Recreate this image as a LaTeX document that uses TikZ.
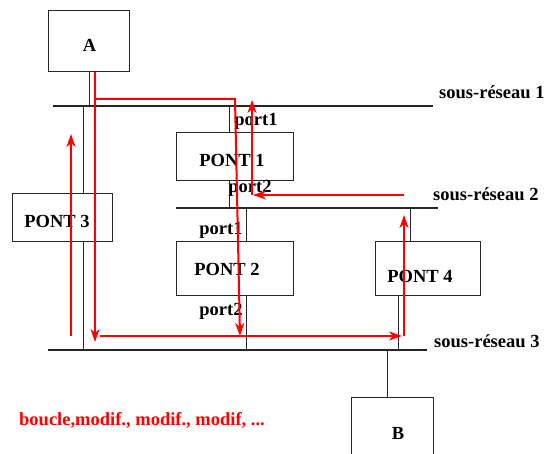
\documentclass[tikz,border=0pt]{standalone}
\usepackage{fontspec}
\setmainfont{Liberation Serif}
\usetikzlibrary{arrows.meta}
\begin{document}
\begin{tikzpicture}[x=1pt,y=-1pt,
  box/.style={draw=black!85, line width=1pt, inner sep=0pt, outer sep=0pt},
  lbl/.style={font=\fontsize{18.5}{22}\selectfont\bfseries, inner sep=0pt, text=black},
  bus/.style={draw=black!85, line width=1.2pt},
  stem/.style={draw=black!85, line width=0.9pt},
  redp/.style={draw=red, line width=2pt},
  redarr/.style={redp, -{Stealth[length=13pt,width=9pt,inset=4pt]}}]
\clip (0,0) rectangle (544,454);
% boxes
\node[box, minimum width=81pt, minimum height=61pt] (boxA) at (88.5,41.5) {};
\node[box, minimum width=117pt, minimum height=48pt] (p1) at (234.5,157) {};
\node[box, minimum width=100pt, minimum height=48pt] (p3) at (62,218) {};
\node[box, minimum width=117pt, minimum height=54pt] (p2) at (234.5,269) {};
\node[box, minimum width=105pt, minimum height=54pt] (p4) at (427.5,269) {};
\node[box, minimum width=82pt, minimum height=61pt] (boxB) at (392,428) {};
% labels
\node[lbl, anchor=base] (tA) at (89.5,52) {A};
\node[lbl, anchor=base] (t1) at (232,167) {PONT 1};
\node[lbl, anchor=base] (t3) at (57,228) {PONT 3};
\node[lbl, anchor=base] (t2) at (227,276) {PONT 2};
\node[lbl, anchor=base] (t4) at (420,283) {PONT 4};
\node[lbl, anchor=base] (tB) at (398,439) {B};
\node[lbl, anchor=base] (p1a) at (256,126) {port1};
\node[lbl, anchor=base] (p1b) at (250,193) {port2};
\node[lbl, anchor=base] (p2a) at (221,235) {port1};
\node[lbl, anchor=base] (p2b) at (221,316) {port2};
\node[lbl, anchor=base west] (s1) at (439,99) {sous-réseau 1};
\node[lbl, anchor=base west] (s2) at (433,201) {sous-réseau 2};
\node[lbl, anchor=base west] (s3) at (434,348) {sous-réseau 3};
\node[lbl, anchor=base west, text=red] (note) at (19,426) {boucle,modif., modif., modif, ...};
% buses
\coordinate (r1w) at (53,106); \coordinate (r1e) at (433,106);
\coordinate (r2w) at (176,208); \coordinate (r2e) at (438,208);
\coordinate (r3w) at (48,350); \coordinate (r3e) at (427,350);
\draw[bus] (r1w) -- (r1e);
\draw[bus] (r2w) -- (r2e);
\draw[bus] (r3w) -- (r3e);
% stems
\draw[stem] (89,0 |- boxA.south) -- (89,0 |- r1w);
\draw[stem] (83,0 |- r1w) -- (83,0 |- p3.north);
\draw[stem] (83,0 |- p3.south) -- (83,0 |- r3w);
\draw[stem] (229,0 |- r1w) -- (229,0 |- p1.north);
\draw[stem] (229,0 |- p1.south) -- (229,0 |- r2w);
\draw[stem] (246,0 |- r2w) -- (246,0 |- p2.north);
\draw[stem] (246,0 |- p2.south) -- (246,0 |- r3w);
\draw[stem] (410,0 |- r2w) -- (410,0 |- p4.north);
\draw[stem] (398.5,0 |- p4.south) -- (398.5,0 |- r3w);
\draw[stem] (387,0 |- r3w) -- (387,0 |- boxB.north);
% red paths
\coordinate (ra) at (95,0 |- boxA.south);
\coordinate (rb) at (95,99);
\coordinate (rc) at (235,99);
\draw[redarr] (ra) -- (95,342);
\draw[redarr] (rb) -- (rc) -- (240,336);
\draw[redarr] (71,336) -- (71,134);
\draw[redarr] (100,336) -- (402,336);
\draw[redarr] (404,336) -- (404,215);
\draw[redarr] (404,195) -- (253,195);
\draw[redarr] (252,195) -- (252,100);
\end{tikzpicture}
\end{document}
